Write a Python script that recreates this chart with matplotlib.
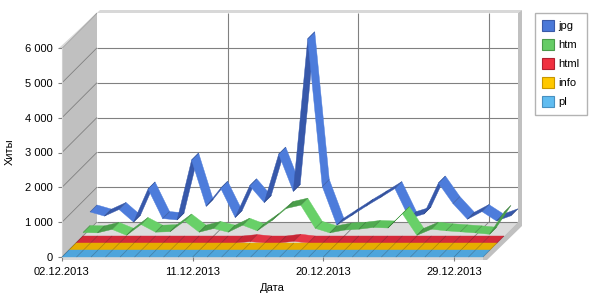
import numpy as np
import pandas as pd
import matplotlib
matplotlib.use('Agg')
import matplotlib.pyplot as plt
from matplotlib.patches import Polygon, Patch
from matplotlib.colors import to_rgb
from matplotlib.ticker import FuncFormatter

plt.rcParams['font.family'] = ['Liberation Sans', 'DejaVu Sans']
plt.rcParams['font.size'] = 8

# data: hits per day, 02.12.2013 .. 31.12.2013
days = pd.date_range('2013-12-02', '2013-12-31')
tick_days = [0, 9, 18, 27]
tick_labels = [days[i].strftime('%d.%m.%Y') for i in tick_days]

jpg = [490, 370, 560, 200, 1150, 300, 260, 1980, 650, 1170,
       330, 1240, 760, 2150, 1080, 5460, 1220, 110, 380, 650,
       900, 1160, 300, 430, 1320, 730, 280, 500, 230, 380]
htm = [100, 90, 190, 20, 330, 110, 125, 430, 110, 215,
       110, 310, 150, 440, 790, 885, 220, 90, 170, 195,
       245, 230, 640, 20, 195, 150, 120, 90, 50, 680]
html = [0, 0, 0, 0, 0, 0, 0, 0, 0, 0,
        0, 0, 40, 0, 0, 50, 0, 0, 0, 0,
        0, 0, 0, 0, 0, 0, 0, 0, 0, 0]
info = [0, 0, 0, 0, 0, 0, 0, 0, 0, 0,
        0, 0, 0, 0, 0, 0, 0, 0, 0, 0,
        0, 0, 0, 0, 0, 0, 0, 0, 0, 0]
pl = [0, 0, 0, 0, 0, 0, 0, 0, 0, 0,
      0, 0, 0, 0, 0, 0, 0, 0, 0, 0,
      0, 0, 0, 0, 0, 0, 0, 0, 0, 0]

names = ['pl', 'info', 'html', 'htm', 'jpg']          # front to back
values = {'jpg': jpg, 'htm': htm, 'html': html, 'info': info, 'pl': pl}
# legend colour, legend edge, base, lit, shadow
colors = {
    'jpg':  ('#4a78d8', '#3a5aa8', '#4875d4', '#4d7cdb', '#3758aa'),
    'htm':  ('#66cc66', '#4a9a4a', '#5cbf5c', '#68d068', '#4a9e4a'),
    'html': ('#f03040', '#b02030', '#d42a3a', '#f2404f', '#c02232'),
    'info': ('#ffc800', '#c89600', '#e6ad00', '#ffc400', '#cc9a00'),
    'pl':   ('#60bcf0', '#4890c0', '#4ea5dc', '#60b8f0', '#4090c8'),
}

DEPTH = 35   # px of fake depth
SLOT = DEPTH / len(names)

fig = plt.figure(figsize=(6, 3), dpi=100)
ax = fig.add_axes([62 / 600, 43 / 300, 421 / 600, 209 / 300])
ax.set_xlim(0, 29)
ax.set_ylim(0, 6000)
ax.patch.set_visible(False)


def back(x, y, dx, dy=None):
    # push data points dx,dy pixels into the scene (up-right)
    if dy is None:
        dy = dx
    x = np.atleast_1d(np.asarray(x, float))
    y = np.atleast_1d(np.asarray(y, float))
    pts = ax.transData.transform(np.column_stack([x, y]))
    k = fig.dpi / 100
    pts = pts + np.column_stack([np.broadcast_to(dx, x.shape) * k,
                                 np.broadcast_to(dy, x.shape) * k])
    return ax.transData.inverted().transform(pts)


def poly(pts, fc, z, ec='none', lw=0):
    ax.add_patch(Polygon(pts, closed=True, fc=fc, ec=ec, lw=lw,
                         clip_on=False, zorder=z))


def line(pts, color, lw, z):
    ax.plot(pts[:, 0], pts[:, 1], color=color, lw=lw, clip_on=False,
            zorder=z, solid_capstyle='butt')


def mix(c1, c2, t):
    a, b = np.array(to_rgb(c1)), np.array(to_rgb(c2))
    return tuple(a + (b - a) * t)


# walls and floor
poly(back([0, 0, 0, 0], [0, 6000, 6000, 0], [0, 0, DEPTH, DEPTH]), '#c0c0c0', 0.1)
poly(back([0, 29, 29, 0], [0, 0, 0, 0], [0, 0, DEPTH, DEPTH]), '#dcdcdc', 0.1)
for v in range(0, 6001, 1000):
    line(back([0, 0], [v, v], [0, DEPTH]), '#808080', 0.6, 0.2)
    if v < 6000:
        line(back([0, 29], [v, v], DEPTH), '#808080', 0.8, 0.2)
for d in tick_days[1:]:
    line(back([d, d], [0, 6000], DEPTH), '#808080', 0.8, 0.2)
    line(back([d, d], [0, 0], [0, DEPTH]), '#808080', 0.6, 0.2)

# bevels
poly(back([0, 0, 0, 0], [6000] * 4, [0, DEPTH, DEPTH + 3, -3], [0, DEPTH, DEPTH + 3, 0]), '#d8d8d8', 0.5)
poly(back([0, 29, 29, 0], [6000] * 4, [DEPTH, DEPTH, DEPTH + 4, DEPTH + 3], [DEPTH, DEPTH, DEPTH + 3, DEPTH + 3]), '#d8d8d8', 0.5)
poly(back([29, 29, 29, 29], [0, 6000, 6000, 0], [DEPTH, DEPTH, DEPTH + 4, DEPTH + 4], [DEPTH, DEPTH, DEPTH + 3, DEPTH - 4]), '#c0c0c0', 0.5)
poly(back([29] * 6, [0] * 6, [0, 0, DEPTH, DEPTH + 4, DEPTH + 4, 4], [-3, 0, DEPTH, DEPTH, DEPTH - 4, -3]), '#c0c0c0', 0.5)
poly(back([0, 29, 29, 0], [0] * 4, 0, [0, 0, -3, -3]), '#d8d8d8', 0.5)

# ribbons, back to front
for s in range(len(names) - 1, -1, -1):
    name = names[s]
    vals = values[name]
    _, _, base, lit, shade = colors[name]
    d0, d1 = s * SLOT, (s + 1) * SLOT
    z = 1 + (len(names) - s)
    for i in range(len(vals) - 1):
        p = ax.transData.transform([[i, vals[i]], [i + 1, vals[i + 1]]])
        slope = (p[1, 1] - p[0, 1]) / (p[1, 0] - p[0, 0])
        t = float(np.clip(-slope * 5, -1, 1))
        fc = mix(base, lit, t) if t > 0 else mix(base, shade, -t)
        pts = back([i, i + 1, i + 1, i], [vals[i], vals[i + 1], vals[i + 1], vals[i]],
                   [d0, d0, d1, d1])
        poly(pts, fc, z, ec=fc, lw=0.3)
    for i in range(len(vals)):
        line(back([i, i], [vals[i], vals[i]], [d0, d1]), (0, 0, 0, 0.25), 0.5, z + 0.1)

# axes
ax.set_xticks(tick_days, tick_labels)
ax.set_yticks(range(0, 6001, 1000))
ax.yaxis.set_major_formatter(FuncFormatter(lambda v, _: f'{int(v):,}'.replace(',', ' ')))
ax.tick_params(axis='both', length=3, width=0.8, color='#808080', labelsize=8, pad=4)
for side in ['top', 'right', 'bottom']:
    ax.spines[side].set_visible(False)
ax.spines['left'].set_color('#d0d0d0')

fig.text(10 / 600, 1 - 152 / 300, 'Хиты', rotation=90, ha='center', va='center', fontsize=8)
fig.text(272.5 / 600, 1 - 288 / 300, 'Дата', ha='center', va='center', fontsize=8)

handles = [Patch(fc=colors[n][0], ec=colors[n][1], lw=0.8, label=n) for n in names[::-1]]
leg = fig.legend(handles=handles, loc='upper left', bbox_to_anchor=(535 / 600, 1 - 13 / 300),
                 bbox_transform=fig.transFigure, fontsize=8, frameon=True, fancybox=False,
                 handlelength=1.08, handleheight=1.08, handletextpad=0.4, labelspacing=0.72,
                 borderpad=0.65, borderaxespad=0)
leg.get_frame().set_edgecolor('#a0a0a0')
leg.get_frame().set_linewidth(1)

fig.savefig('out.png', dpi=100)
